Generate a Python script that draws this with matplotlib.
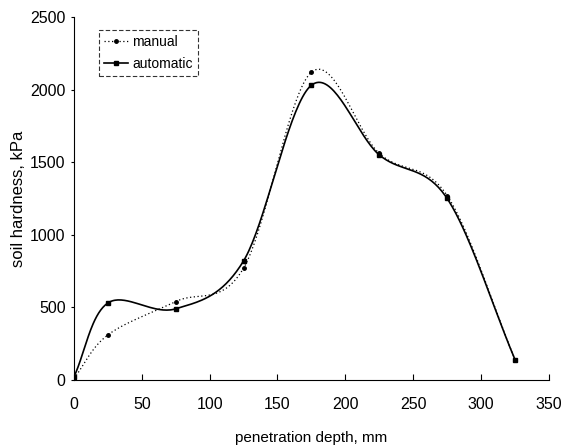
import numpy as np
import matplotlib
matplotlib.use("Agg")
import matplotlib.pyplot as plt
from matplotlib.lines import Line2D

depth = [0, 25, 75, 125, 175, 225, 275, 325]
manual = [10, 310, 540, 770, 2120, 1560, 1270, 140]
automatic = [20, 530, 490, 820, 2030, 1550, 1250, 140]
xticks = [0, 50, 100, 150, 200, 250, 300, 350]
yticks = [0, 500, 1000, 1500, 2000, 2500]


def smooth(x, y, n=40):
    x = np.asarray(x, float); y = np.asarray(y, float)
    px = np.concatenate([[2 * x[0] - x[1]], x, [2 * x[-1] - x[-2]]])
    py = np.concatenate([[2 * y[0] - y[1]], y, [2 * y[-1] - y[-2]]])
    xs, ys = [], []
    t = np.linspace(0, 1, n)
    for i in range(1, len(px) - 2):
        p0, p1, p2, p3 = [np.array([px[j], py[j]]) for j in range(i - 1, i + 3)]
        c1 = p1 + (p2 - p0) / 6
        c2 = p2 - (p3 - p1) / 6
        b = ((1 - t) ** 3)[:, None] * p1 + (3 * (1 - t) ** 2 * t)[:, None] * c1 \
            + (3 * (1 - t) * t ** 2)[:, None] * c2 + (t ** 3)[:, None] * p2
        xs.append(b[:, 0]); ys.append(b[:, 1])
    return np.concatenate(xs), np.concatenate(ys)


plt.rcParams['font.family'] = ['Liberation Sans', 'DejaVu Sans']
fig = plt.figure(figsize=(5.73, 4.47), dpi=100)
ax = fig.add_axes([0.129, 0.150, 0.829, 0.812])

mx, my = smooth(depth, manual)
ax.plot(mx, my, color='black', lw=0.9, ls=(0, (1, 2)))
ax.plot(depth, manual, 'o', color='black', ms=2.5)
axx, axy = smooth(depth, automatic)
ax.plot(axx, axy, color='black', lw=1.2)
ax.plot(depth, automatic, 's', color='black', ms=3)

h1 = Line2D([], [], color='black', lw=0.9, ls=(0, (1, 2)), marker='o', ms=2.5)
h2 = Line2D([], [], color='black', lw=1.2, marker='s', ms=3)
leg = ax.legend([h1, h2], ['manual', 'automatic'], loc='upper left',
                bbox_to_anchor=(0.052, 0.965), fontsize=10, frameon=True,
                fancybox=False, handlelength=1.7, handletextpad=0.3,
                borderpad=0.4, labelspacing=0.55, borderaxespad=0)
leg.get_frame().set_edgecolor('black')
leg.get_frame().set_linestyle((0, (4, 2)))
leg.get_frame().set_linewidth(0.8)

ax.set_xlim(0, 350)
ax.set_ylim(0, 2500)
ax.set_xticks(xticks)
ax.set_yticks(yticks)
ax.spines['top'].set_visible(False)
ax.spines['right'].set_visible(False)
ax.tick_params(axis='x', direction='in', length=4, labelsize=11.5, pad=12)
ax.tick_params(axis='y', direction='out', length=2, labelsize=11.5, pad=4)
ax.set_xlabel('penetration depth, mm', fontsize=11)
ax.xaxis.set_label_coords(0.5, -0.14)
ax.set_ylabel('soil hardness, kPa', fontsize=12)
ax.yaxis.set_label_coords(-0.1, 0.5)

fig.savefig('out.png', dpi=100)
